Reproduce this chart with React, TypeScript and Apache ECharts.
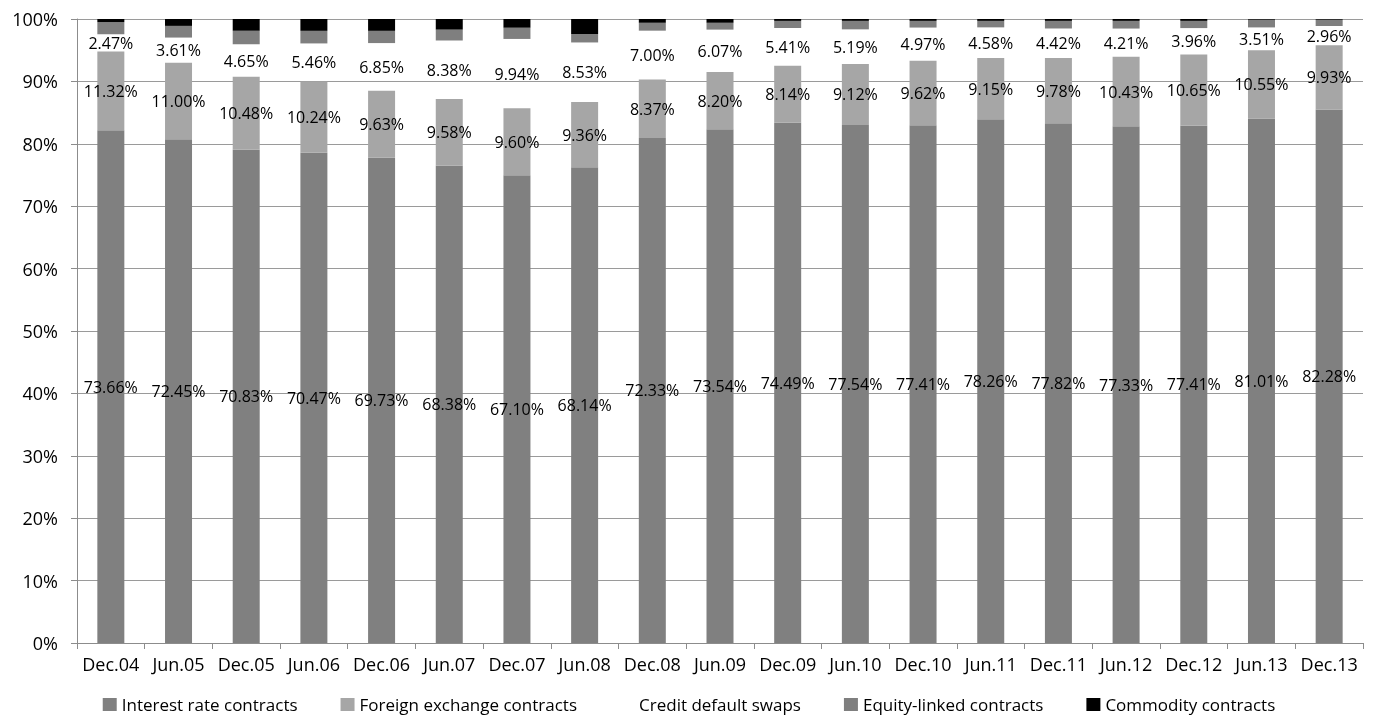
import React, { useEffect, useRef } from "react";
import * as echarts from "echarts";

const categories = ["Dec.04", "Jun.05", "Dec.05", "Jun.06", "Dec.06", "Jun.07", "Dec.07", "Jun.08", "Dec.08", "Jun.09", "Dec.09", "Jun.10", "Dec.10", "Jun.11", "Dec.11", "Jun.12", "Dec.12", "Jun.13", "Dec.13"];
const interestRate = [73.66, 72.45, 70.83, 70.47, 69.73, 68.38, 67.1, 68.14, 72.33, 73.54, 74.49, 77.54, 77.41, 78.26, 77.82, 77.33, 77.41, 81.01, 82.28];
const foreignExchange = [11.32, 11.0, 10.48, 10.24, 9.63, 9.58, 9.6, 9.36, 8.37, 8.2, 8.14, 9.12, 9.62, 9.15, 9.78, 10.43, 10.65, 10.55, 9.93];
const creditDefaultSwaps = [2.47, 3.61, 4.65, 5.46, 6.85, 8.38, 9.94, 8.53, 7.0, 6.07, 5.41, 5.19, 4.97, 4.58, 4.42, 4.21, 3.96, 3.51, 2.96];
const equityLinked = [1.74, 1.68, 1.94, 1.81, 1.76, 1.56, 1.61, 1.21, 1.13, 0.98, 1.02, 1.27, 1.0, 0.97, 1.14, 1.15, 1.08, 1.2, 0.98];
const commodity = [0.45, 0.99, 1.7, 1.7, 1.7, 1.52, 1.25, 2.15, 0.54, 0.54, 0.27, 0.28, 0.28, 0.28, 0.28, 0.28, 0.28, 0.1, 0.1];
const yTicks = [0, 10, 20, 30, 40, 50, 60, 70, 80, 90, 100];

const FONT = "Open Sans";

export default function App() {
  const ref = useRef<HTMLDivElement>(null);
  useEffect(() => {
    if (!ref.current) return;
    const chart = echarts.init(ref.current, undefined, { renderer: "svg" });
    const raw = [interestRate, foreignExchange, creditDefaultSwaps, equityLinked, commodity];
    const totals = categories.map((_, i) => raw.reduce((s, arr) => s + arr[i], 0));
    const norm = (arr: number[]) => arr.map((v, i) => (v / totals[i]) * 100);
    const labelCfg = (arr: number[]) => ({
      show: true,
      position: "inside",
      color: "#000",
      fontFamily: FONT,
      fontSize: 16,
      formatter: (p: any) => arr[p.dataIndex].toFixed(2) + "%",
    });
    const names = ["Interest rate contracts", "Foreign exchange contracts", "Credit default swaps", "Equity-linked contracts", "Commodity contracts"];
    const colors = ["#808080", "#a6a6a6", "rgba(255,255,255,0)", "#7f7f7f", "#000000"];
    const series = raw.map((arr, k) => ({
      name: names[k],
      type: "bar",
      stack: "total",
      barWidth: 27,
      data: norm(arr),
      itemStyle: { color: colors[k] },
      label: k < 3 ? labelCfg(arr) : { show: false },
      emphasis: { disabled: true },
    }));
    chart.setOption({
      animation: false,
      textStyle: { fontFamily: FONT },
      grid: { left: 77, right: 15, top: 19, bottom: 77, containLabel: false },
      legend: {
        top: 696,
        left: "center",
        itemWidth: 14,
        itemHeight: 13,
        itemGap: 43,
        icon: "rect",
        padding: 0,
        textStyle: { fontFamily: FONT, fontSize: 17, color: "#000" },
        data: names,
      },
      xAxis: {
        type: "category",
        data: categories,
        axisLine: { lineStyle: { color: "#8c8c8c" } },
        axisTick: { show: true, length: 6, lineStyle: { color: "#8c8c8c" } },
        axisLabel: { interval: 0, color: "#000", fontFamily: FONT, fontSize: 18, margin: 12 },
      },
      yAxis: {
        type: "value",
        min: yTicks[0],
        max: yTicks[yTicks.length - 1],
        interval: 10,
        axisLine: { show: true, lineStyle: { color: "#8c8c8c" } },
        axisTick: { show: true, length: 6, lineStyle: { color: "#8c8c8c" } },
        splitLine: { lineStyle: { color: "#9a9a9a" } },
        axisLabel: { color: "#000", fontFamily: FONT, fontSize: 18, margin: 19, formatter: "{value}%" },
      },
      series,
    });
    return () => chart.dispose();
  }, []);
  return <div ref={ref} style={{ position: "fixed", left: 0, top: 0, width: 1378, height: 720 }} />;
}
